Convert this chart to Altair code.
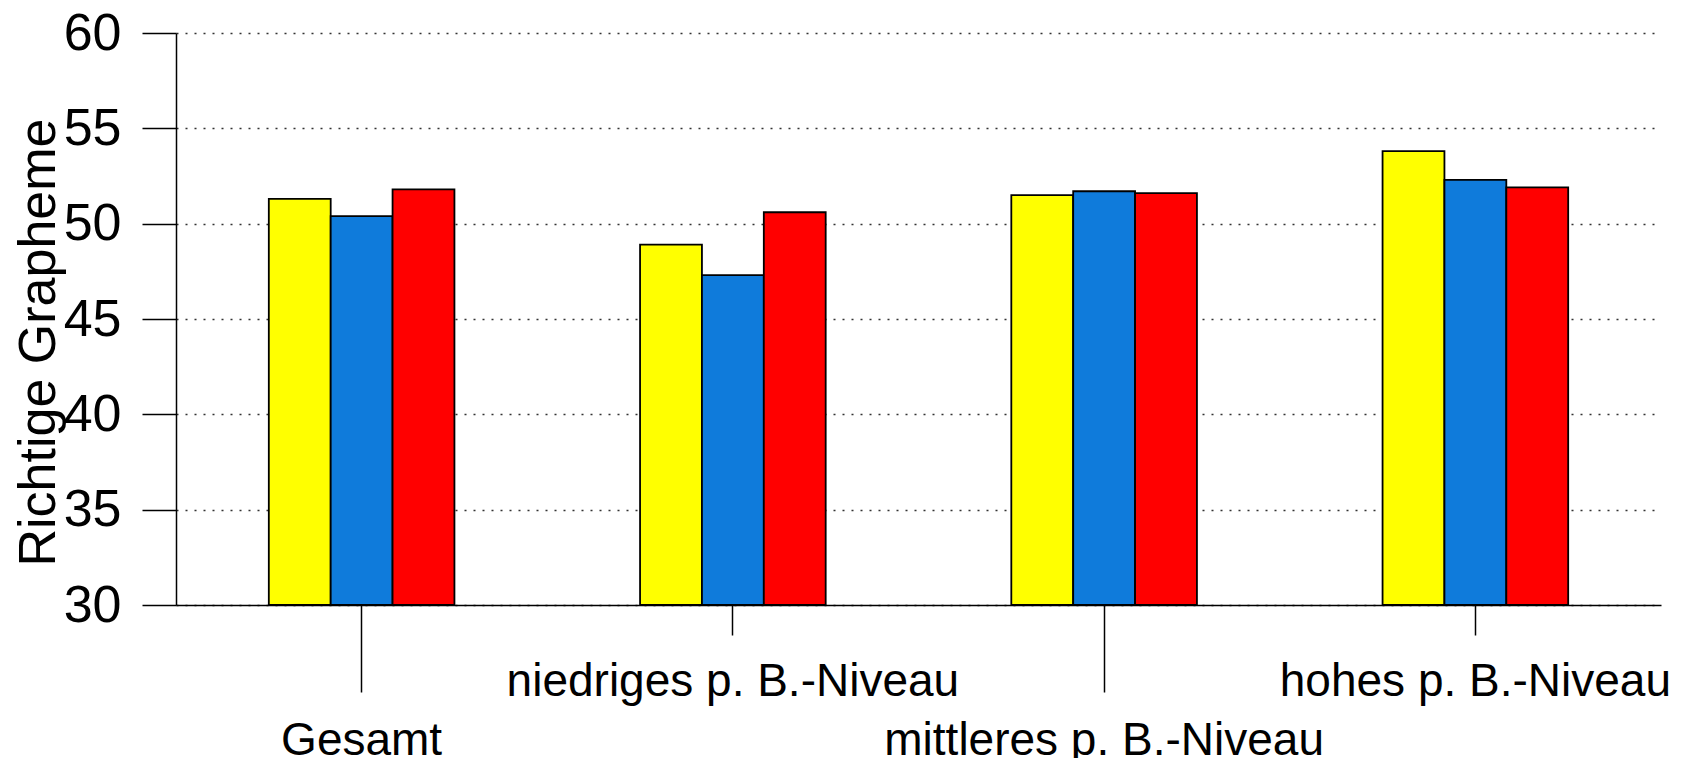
import altair as alt
import pandas as pd

categories = ["Gesamt", "niedriges p. B.-Niveau", "mittleres p. B.-Niveau", "hohes p. B.-Niveau"]
series = ["Reihe 1", "Reihe 2", "Reihe 3"]
colors = ["#FFFF00", "#0F7BDB", "#FF0000"]
values_1 = [51.3, 48.9, 51.5, 53.8]
values_2 = [50.4, 47.3, 51.7, 52.3]
values_3 = [51.8, 50.6, 51.6, 51.9]
y_ticks = [30, 35, 40, 45, 50, 55, 60]
lower_labels = ["Gesamt", "mittleres p. B.-Niveau"]

rows = []
for s, vals in zip(series, [values_1, values_2, values_3]):
    for c, v in zip(categories, vals):
        rows.append({"kategorie": c, "reihe": s, "wert": v})
df = pd.DataFrame(rows)

test = " || ".join(f"datum.value == '{l}'" for l in lower_labels)
FONT = "Liberation Sans"

chart = alt.Chart(df).mark_bar(stroke="black", strokeWidth=1.8).encode(
    x=alt.X(
        "kategorie:N",
        sort=categories,
        title="",
        scale=alt.Scale(paddingInner=0.5, paddingOuter=0.25),
        axis=alt.Axis(
            labelAngle=0,
            labelFont=FONT,
            labelFontSize=46,
            labelColor="black",
            labelLimit=800,
            labelOverlap=False,
            labelBaseline="alphabetic",
            tickColor="black",
            tickWidth=1.5,
            tickSize={"condition": {"test": test, "value": 87}, "value": 30},
            labelPadding={"condition": {"test": test, "value": 62}, "value": 60},
            domainColor="black",
            domainWidth=1.5,
            grid=False,
        ),
    ),
    xOffset=alt.XOffset("reihe:N", sort=series, scale=alt.Scale(paddingInner=0, paddingOuter=0)),
    y=alt.Y(
        "wert:Q",
        title="Richtige Grapheme",
        scale=alt.Scale(domain=[30, 60], zero=False, nice=False),
        axis=alt.Axis(
            values=y_ticks,
            labelFont=FONT,
            labelFontSize=52,
            labelColor="black",
            labelPadding=21,
            tickSize=34,
            tickColor="black",
            tickWidth=1.5,
            domainColor="black",
            domainWidth=1.5,
            grid=True,
            gridDash=[2, 7],
            gridColor="#333333",
            gridWidth=1.5,
            titleFont=FONT,
            titleFontSize=52,
            titleFontWeight="normal",
            titleColor="black",
            titleAngle=270,
            titleAlign="center",
            titleBaseline="alphabetic",
            titleX=-122,
            titleY=309,
        ),
    ),
    y2=alt.datum(30),
    color=alt.Color("reihe:N", scale=alt.Scale(domain=series, range=colors)),
).properties(
    width=1485,
    height=572,
    autosize=alt.AutoSizeParams(type="none"),
    padding={"left": 168, "top": 25, "right": 12, "bottom": 165},
).configure_view(strokeWidth=0).configure_legend(disable=True)

chart.save("out.html", embed_options={"renderer": "svg", "actions": False})
